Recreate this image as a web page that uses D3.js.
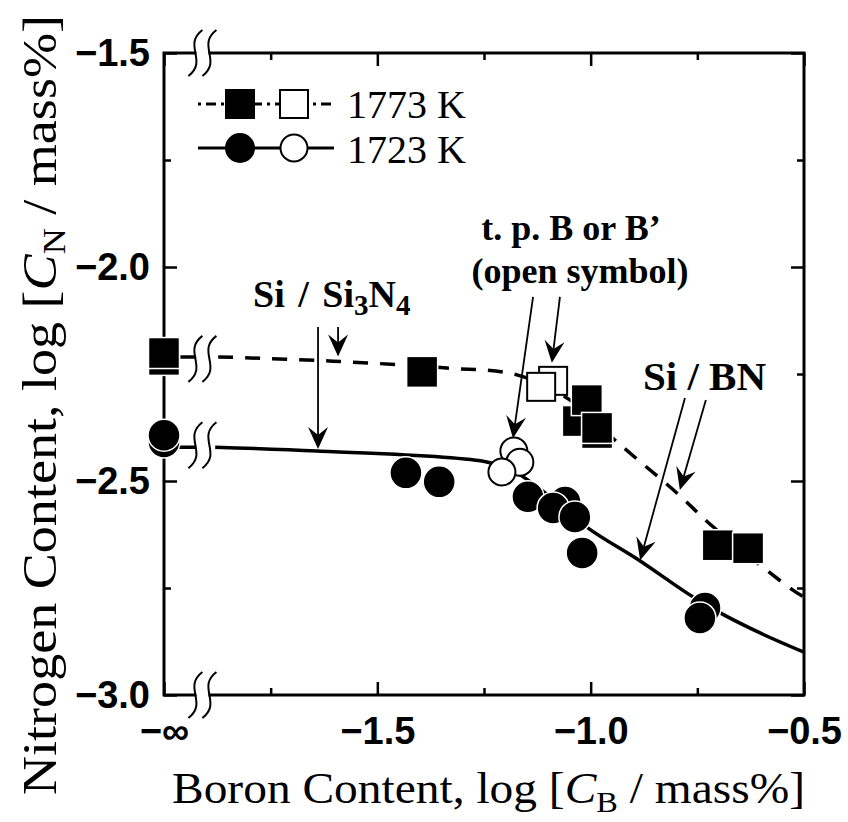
<!DOCTYPE html>
<html>
<head>
<meta charset="utf-8">
<script src="https://cdn.jsdelivr.net/npm/d3@7/dist/d3.min.js"></script>
<style>
  body { margin: 0; background: #fff; }
  svg text { fill: #000; }
</style>
</head>
<body>
<script>
// ---- values ----
const xMajor = [-2.0, -1.5, -1.0, -0.5];
const xLabels = ["\u2212\u221e", "\u22121.5", "\u22121.0", "\u22120.5"];
const xMinor = [-1.75, -1.25, -0.75];
const yMajor = [-1.5, -2.0, -2.5, -3.0];
const yLabels = ["\u22121.5", "\u22122.0", "\u22122.5", "\u22123.0"];
const yMinor = [-1.75, -2.25, -2.75];

// 1773 K, filled squares (x = -2.0 stands for -infinity)
const sq1773X = [-2.0, -2.0, -1.395, -0.985, -1.030, -1.009, -0.985, -0.702, -0.631];
const sq1773Y = [-2.217, -2.201, -2.245, -2.388, -2.360, -2.311, -2.376, -2.650, -2.657];
// 1773 K, open squares (t. p. B or B')
const op1773X = [-1.088, -1.116];
const op1773Y = [-2.266, -2.280];
// 1723 K, filled circles
const ci1723X = [-2.0, -2.0, -1.433, -1.355, -1.147, -1.060, -1.088, -1.037, -1.020, -0.732, -0.744];
const ci1723Y = [-2.409, -2.393, -2.481, -2.502, -2.537, -2.549, -2.563, -2.584, -2.668, -2.797, -2.820];
// 1723 K, open circles
const oc1723X = [-1.180, -1.166, -1.208];
const oc1723Y = [-2.430, -2.456, -2.479];

// calculated curves
const fit1773X = [-1.873, -1.604, -1.337, -1.173, -1.048, -0.938, -0.798, -0.713, -0.526, -0.5];
const fit1773Y = [-2.210, -2.220, -2.236, -2.252, -2.311, -2.409, -2.528, -2.607, -2.755, -2.771];
const fit1723X = [-1.880, -1.641, -1.241, -1.177, -1.095, -1.006, -0.884, -0.774, -0.704, -0.603, -0.5];
const fit1723Y = [-2.421, -2.430, -2.456, -2.479, -2.537, -2.610, -2.687, -2.762, -2.804, -2.855, -2.900];

const breakX = -1.91;

const W = 848, H = 822;
const serif = "'Liberation Serif','Times New Roman',serif";
const sans = "'Liberation Sans',Arial,sans-serif";

const svg = d3.select("body").append("svg").attr("width", W).attr("height", H);

const x = d3.scaleLinear().domain([-2.0, -0.5]).range([164, 804]);
const y = d3.scaleLinear().domain([-1.5, -3.0]).range([53, 695]);

// ---- axes (ticks point inward) ----
function styleAxis(g) {
  g.select(".domain").remove();
  g.selectAll(".tick line").attr("stroke", "#000").attr("stroke-width", 2.5);
  g.selectAll(".tick text")
    .attr("font-family", sans).attr("font-weight", "bold").attr("font-size", 38).attr("fill", "#000");
}
svg.append("g").attr("transform", `translate(0,${y(-3.0)})`)
  .call(d3.axisBottom(x).tickValues(xMajor).tickSize(-13).tickPadding(22).tickFormat((d, i) => xLabels[i]))
  .call(styleAxis);
svg.append("g").attr("transform", `translate(0,${y(-3.0)})`)
  .call(d3.axisBottom(x).tickValues(xMinor).tickSize(-7).tickFormat(""))
  .call(styleAxis);
svg.append("g").attr("transform", `translate(0,${y(-1.5)})`)
  .call(d3.axisTop(x).tickValues(xMajor).tickSize(-13).tickFormat(""))
  .call(styleAxis);
svg.append("g").attr("transform", `translate(0,${y(-1.5)})`)
  .call(d3.axisTop(x).tickValues(xMinor).tickSize(-7).tickFormat(""))
  .call(styleAxis);
svg.append("g").attr("transform", `translate(${x(-2.0)},0)`)
  .call(d3.axisLeft(y).tickValues(yMajor).tickSize(-13).tickPadding(14).tickFormat((d, i) => yLabels[i]))
  .call(styleAxis);
svg.append("g").attr("transform", `translate(${x(-2.0)},0)`)
  .call(d3.axisLeft(y).tickValues(yMinor).tickSize(-7).tickFormat(""))
  .call(styleAxis);
svg.append("g").attr("transform", `translate(${x(-0.5)},0)`)
  .call(d3.axisRight(y).tickValues(yMajor).tickSize(-13).tickFormat(""))
  .call(styleAxis);
svg.append("g").attr("transform", `translate(${x(-0.5)},0)`)
  .call(d3.axisRight(y).tickValues(yMinor).tickSize(-7).tickFormat(""))
  .call(styleAxis);

svg.append("rect")
  .attr("x", x(-2.0)).attr("y", y(-1.5))
  .attr("width", x(-0.5) - x(-2.0)).attr("height", y(-3.0) - y(-1.5))
  .attr("fill", "none").attr("stroke", "#000").attr("stroke-width", 3);

// ---- curves ----
const line = d3.line().x(d => x(d[0])).y(d => y(d[1])).curve(d3.curveCatmullRom.alpha(0.5));
svg.append("path").datum(d3.zip(fit1773X, fit1773Y))
  .attr("d", line).attr("fill", "none").attr("stroke", "#000")
  .attr("stroke-width", 3.5).attr("stroke-dasharray", "15,12");
svg.append("path").datum(d3.zip(fit1723X, fit1723Y))
  .attr("d", line).attr("fill", "none").attr("stroke", "#000").attr("stroke-width", 3.5);

// stubs from the -infinity points to the break
[fit1773Y[0], fit1723Y[0]].forEach(v => {
  svg.append("line")
    .attr("x1", x(-2.0)).attr("x2", x(breakX) - 6)
    .attr("y1", y(v)).attr("y2", y(v))
    .attr("stroke", "#000").attr("stroke-width", 3.5);
});

// ---- axis / line breaks ----
function drawBreak(cx, cy, h) {
  const g = svg.append("g");
  g.append("rect").attr("x", cx - 6).attr("y", cy - 7).attr("width", 12).attr("height", 14).attr("fill", "#fff");
  [-7, 7].forEach(off => {
    const xx = cx + off;
    g.append("path")
      .attr("d", `M${xx + 7},${cy - h / 2} C${xx - 13},${cy - h / 6} ${xx + 13},${cy + h / 6} ${xx - 7},${cy + h / 2}`)
      .attr("fill", "none").attr("stroke", "#000").attr("stroke-width", 2);
  });
}
drawBreak(x(breakX), y(-1.5), 46);
drawBreak(x(breakX), y(-3.0), 46);
drawBreak(x(breakX), y(fit1773Y[0]) + 2, 46);
drawBreak(x(breakX), y(fit1723Y[0]) - 2, 46);

// ---- symbols ----
const S = 31;
svg.append("g").selectAll("rect").data(d3.zip(sq1773X, sq1773Y)).join("rect")
  .attr("x", d => x(d[0]) - S / 2).attr("y", d => y(d[1]) - S / 2)
  .attr("width", S).attr("height", S)
  .attr("fill", "#000").attr("stroke", "#fff").attr("stroke-width", 1.5);
svg.append("g").selectAll("rect").data(d3.zip(op1773X, op1773Y)).join("rect")
  .attr("x", d => x(d[0]) - 14).attr("y", d => y(d[1]) - 14)
  .attr("width", 28).attr("height", 28)
  .attr("fill", "#fff").attr("stroke", "#000").attr("stroke-width", 2);
svg.append("g").selectAll("circle").data(d3.zip(ci1723X, ci1723Y)).join("circle")
  .attr("cx", d => x(d[0])).attr("cy", d => y(d[1])).attr("r", 16)
  .attr("fill", "#000").attr("stroke", "#fff").attr("stroke-width", 1.5);
svg.append("g").selectAll("circle").data(d3.zip(oc1723X, oc1723Y)).join("circle")
  .attr("cx", d => x(d[0])).attr("cy", d => y(d[1])).attr("r", 13.5)
  .attr("fill", "#fff").attr("stroke", "#000").attr("stroke-width", 2);

// ---- annotation arrows ----
function arrow(x1, y1, x2, y2) {
  const X1 = x(x1), Y1 = y(y1), X2 = x(x2), Y2 = y(y2);
  const a = Math.atan2(Y2 - Y1, X2 - X1);
  const L = 22, Wd = 10, N = 14;
  const ux = Math.cos(a), uy = Math.sin(a);
  const bx = X2 - ux * L, by = Y2 - uy * L;
  svg.append("line").attr("x1", X1).attr("y1", Y1)
    .attr("x2", X2 - ux * N).attr("y2", Y2 - uy * N)
    .attr("stroke", "#000").attr("stroke-width", 1.8);
  const pts = [
    [X2, Y2],
    [bx - uy * Wd, by + ux * Wd],
    [X2 - ux * N, Y2 - uy * N],
    [bx + uy * Wd, by - ux * Wd]
  ];
  svg.append("path").attr("d", "M" + pts.map(p => p.join(",")).join("L") + "Z").attr("fill", "#000");
}
arrow(-1.639, -2.140, -1.639, -2.425);
arrow(-1.592, -2.140, -1.592, -2.209);
arrow(-1.135, -2.070, -1.182, -2.400);
arrow(-1.072, -2.070, -1.091, -2.224);
arrow(-0.779, -2.306, -0.884, -2.685);
arrow(-0.730, -2.311, -0.791, -2.521);

// ---- annotation texts ----
const siN = svg.append("text").attr("x", 253).attr("y", 307)
  .attr("font-family", serif).attr("font-weight", "bold").attr("font-size", 38)
  .attr("word-spacing", 4);
siN.append("tspan").text("Si / Si");
siN.append("tspan").attr("dy", 8).attr("font-size", 29).text("3");
siN.append("tspan").attr("dy", -8).text("N");
siN.append("tspan").attr("dy", 8).attr("font-size", 29).text("4");

svg.append("text").attr("x", 571).attr("y", 240).attr("text-anchor", "middle")
  .attr("font-family", serif).attr("font-weight", "bold").attr("font-size", 36)
  .text("t. p. B or B\u2019");
svg.append("text").attr("x", 580).attr("y", 283).attr("text-anchor", "middle")
  .attr("font-family", serif).attr("font-weight", "bold").attr("font-size", 36)
  .text("(open symbol)");
svg.append("text").attr("x", 643).attr("y", 390)
  .attr("font-family", serif).attr("font-weight", "bold").attr("font-size", 41)
  .text("Si / BN");

// ---- legend ----
const lg = svg.append("g");
lg.append("line").attr("x1", 198).attr("x2", 334).attr("y1", 104).attr("y2", 104)
  .attr("stroke", "#000").attr("stroke-width", 3).attr("stroke-dasharray", "3,5,10,5");
lg.append("rect").attr("x", 225).attr("y", 89).attr("width", 30).attr("height", 30).attr("fill", "#000");
lg.append("rect").attr("x", 280).attr("y", 90).attr("width", 28).attr("height", 28)
  .attr("fill", "#fff").attr("stroke", "#000").attr("stroke-width", 2);
lg.append("text").attr("x", 347).attr("y", 118).attr("font-family", serif).attr("font-size", 40).text("1773 K");
lg.append("line").attr("x1", 198).attr("x2", 334).attr("y1", 148).attr("y2", 148)
  .attr("stroke", "#000").attr("stroke-width", 3);
lg.append("circle").attr("cx", 240).attr("cy", 148).attr("r", 15).attr("fill", "#000");
lg.append("circle").attr("cx", 294).attr("cy", 148).attr("r", 13.5)
  .attr("fill", "#fff").attr("stroke", "#000").attr("stroke-width", 2);
lg.append("text").attr("x", 347).attr("y", 163).attr("font-family", serif).attr("font-size", 40).text("1723 K");

// ---- axis titles ----
const xt = svg.append("text").attr("x", 172).attr("y", 803)
  .attr("font-family", serif).attr("font-size", 44)
  .attr("textLength", 633).attr("lengthAdjust", "spacingAndGlyphs");
xt.append("tspan").text("Boron Content, log [");
xt.append("tspan").attr("font-style", "italic").text("C");
xt.append("tspan").attr("dy", 9).attr("font-size", 30).text("B");
xt.append("tspan").attr("dy", -9).text(" / mass%]");

const yt = svg.append("text").attr("transform", "translate(56,795) rotate(-90)")
  .attr("x", 0).attr("y", 0)
  .attr("font-family", serif).attr("font-size", 48)
  .attr("textLength", 780).attr("lengthAdjust", "spacingAndGlyphs");
yt.append("tspan").text("Nitrogen Content, log [");
yt.append("tspan").attr("font-style", "italic").text("C");
yt.append("tspan").attr("dy", 9).attr("font-size", 32).text("N");
yt.append("tspan").attr("dy", -9).text(" / mass%]");
</script>
</body>
</html>
